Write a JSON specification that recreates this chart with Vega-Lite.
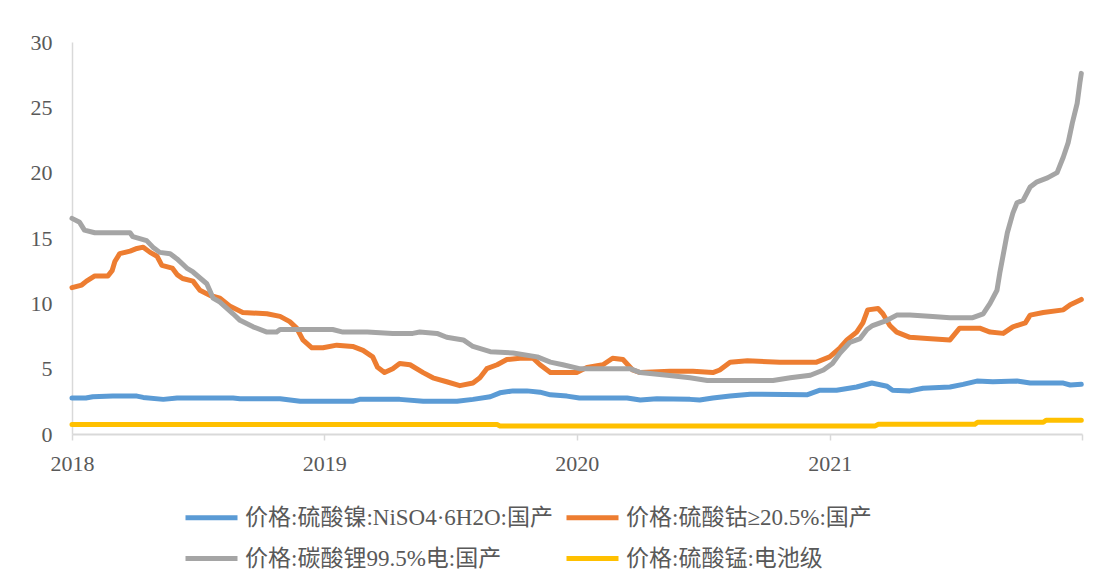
{
  "$schema": "https://vega.github.io/schema/vega-lite/v6.json",
  "width": 1010,
  "height": 392,
  "autosize": {"type": "none"},
  "padding": {"left": 72, "top": 42, "right": 17, "bottom": 148},
  "background": "white",
  "config": {"view": {"stroke": null}, "font": "Liberation Serif"},
  "datasets": {
    "ni": [
      {"date":"2018-01-01","price":2.75},{"date":"2018-01-21","price":2.75},{"date":"2018-01-31","price":2.85},{"date":"2018-03-01","price":2.9},{"date":"2018-04-05","price":2.9},{"date":"2018-04-14","price":2.8},{"date":"2018-05-13","price":2.65},{"date":"2018-06-02","price":2.75},{"date":"2018-08-22","price":2.75},{"date":"2018-09-01","price":2.7},{"date":"2018-10-29","price":2.7},{"date":"2018-11-27","price":2.5},{"date":"2019-02-11","price":2.5},{"date":"2019-02-21","price":2.65},{"date":"2019-04-20","price":2.65},{"date":"2019-05-24","price":2.5},{"date":"2019-07-12","price":2.5},{"date":"2019-08-04","price":2.65},{"date":"2019-08-29","price":2.85},{"date":"2019-09-12","price":3.15},{"date":"2019-10-01","price":3.3},{"date":"2019-10-21","price":3.3},{"date":"2019-11-09","price":3.2},{"date":"2019-11-24","price":3.0},{"date":"2019-12-18","price":2.9},{"date":"2020-01-05","price":2.75},{"date":"2020-03-14","price":2.75},{"date":"2020-04-02","price":2.6},{"date":"2020-04-26","price":2.7},{"date":"2020-06-13","price":2.65},{"date":"2020-06-27","price":2.6},{"date":"2020-07-16","price":2.75},{"date":"2020-08-10","price":2.9},{"date":"2020-09-08","price":3.05},{"date":"2020-11-29","price":3.0},{"date":"2020-12-18","price":3.35},{"date":"2021-01-11","price":3.35},{"date":"2021-02-09","price":3.6},{"date":"2021-03-03","price":3.9},{"date":"2021-03-25","price":3.65},{"date":"2021-04-02","price":3.35},{"date":"2021-04-27","price":3.3},{"date":"2021-05-16","price":3.5},{"date":"2021-06-24","price":3.6},{"date":"2021-07-13","price":3.8},{"date":"2021-08-02","price":4.05},{"date":"2021-08-25","price":4.0},{"date":"2021-09-29","price":4.05},{"date":"2021-10-18","price":3.9},{"date":"2021-12-05","price":3.9},{"date":"2021-12-15","price":3.75},{"date":"2021-12-31","price":3.8}
    ],
    "co": [
      {"date":"2018-01-01","price":11.2},{"date":"2018-01-15","price":11.4},{"date":"2018-01-22","price":11.7},{"date":"2018-02-03","price":12.1},{"date":"2018-02-22","price":12.1},{"date":"2018-02-28","price":12.5},{"date":"2018-03-04","price":13.2},{"date":"2018-03-11","price":13.8},{"date":"2018-03-26","price":14.0},{"date":"2018-04-05","price":14.2},{"date":"2018-04-14","price":14.3},{"date":"2018-04-24","price":13.9},{"date":"2018-05-04","price":13.6},{"date":"2018-05-11","price":12.9},{"date":"2018-05-26","price":12.7},{"date":"2018-06-02","price":12.2},{"date":"2018-06-10","price":11.9},{"date":"2018-06-25","price":11.7},{"date":"2018-07-05","price":11.0},{"date":"2018-07-20","price":10.6},{"date":"2018-08-03","price":10.4},{"date":"2018-08-17","price":9.8},{"date":"2018-09-05","price":9.3},{"date":"2018-10-10","price":9.2},{"date":"2018-10-29","price":9.0},{"date":"2018-11-12","price":8.6},{"date":"2018-11-22","price":8.1},{"date":"2018-12-01","price":7.2},{"date":"2018-12-14","price":6.6},{"date":"2018-12-30","price":6.6},{"date":"2019-01-19","price":6.8},{"date":"2019-02-11","price":6.7},{"date":"2019-02-26","price":6.4},{"date":"2019-03-12","price":5.9},{"date":"2019-03-19","price":5.1},{"date":"2019-03-29","price":4.7},{"date":"2019-04-10","price":5.0},{"date":"2019-04-20","price":5.4},{"date":"2019-05-05","price":5.3},{"date":"2019-05-24","price":4.7},{"date":"2019-06-07","price":4.3},{"date":"2019-06-27","price":4.0},{"date":"2019-07-16","price":3.7},{"date":"2019-08-04","price":3.9},{"date":"2019-08-14","price":4.3},{"date":"2019-08-24","price":5.0},{"date":"2019-09-08","price":5.3},{"date":"2019-09-22","price":5.7},{"date":"2019-10-11","price":5.8},{"date":"2019-10-30","price":5.8},{"date":"2019-11-09","price":5.3},{"date":"2019-11-24","price":4.7},{"date":"2020-01-01","price":4.7},{"date":"2020-01-16","price":5.1},{"date":"2020-02-08","price":5.3},{"date":"2020-02-22","price":5.8},{"date":"2020-03-08","price":5.7},{"date":"2020-03-22","price":4.9},{"date":"2020-04-02","price":4.7},{"date":"2020-05-15","price":4.8},{"date":"2020-06-17","price":4.8},{"date":"2020-07-16","price":4.7},{"date":"2020-07-26","price":4.9},{"date":"2020-08-10","price":5.5},{"date":"2020-09-04","price":5.6},{"date":"2020-10-21","price":5.5},{"date":"2020-12-13","price":5.5},{"date":"2021-01-01","price":5.9},{"date":"2021-01-16","price":6.6},{"date":"2021-01-26","price":7.2},{"date":"2021-02-09","price":7.8},{"date":"2021-02-18","price":8.5},{"date":"2021-02-25","price":9.5},{"date":"2021-03-12","price":9.6},{"date":"2021-03-19","price":9.2},{"date":"2021-03-29","price":8.3},{"date":"2021-04-08","price":7.8},{"date":"2021-04-27","price":7.4},{"date":"2021-05-22","price":7.3},{"date":"2021-06-24","price":7.2},{"date":"2021-07-08","price":8.1},{"date":"2021-08-06","price":8.1},{"date":"2021-08-21","price":7.8},{"date":"2021-09-09","price":7.7},{"date":"2021-09-23","price":8.2},{"date":"2021-10-11","price":8.5},{"date":"2021-10-18","price":9.1},{"date":"2021-11-06","price":9.3},{"date":"2021-12-05","price":9.5},{"date":"2021-12-15","price":9.9},{"date":"2021-12-31","price":10.3}
    ],
    "li": [
      {"date":"2018-01-01","price":16.5},{"date":"2018-01-12","price":16.2},{"date":"2018-01-19","price":15.6},{"date":"2018-02-03","price":15.4},{"date":"2018-03-26","price":15.4},{"date":"2018-03-30","price":15.1},{"date":"2018-04-19","price":14.8},{"date":"2018-04-28","price":14.3},{"date":"2018-05-08","price":13.9},{"date":"2018-05-23","price":13.8},{"date":"2018-06-02","price":13.4},{"date":"2018-06-16","price":12.7},{"date":"2018-06-25","price":12.4},{"date":"2018-07-15","price":11.5},{"date":"2018-07-20","price":10.9},{"date":"2018-07-24","price":10.4},{"date":"2018-08-03","price":10.1},{"date":"2018-08-22","price":9.2},{"date":"2018-09-01","price":8.7},{"date":"2018-09-20","price":8.2},{"date":"2018-10-10","price":7.8},{"date":"2018-10-24","price":7.8},{"date":"2018-10-29","price":8.0},{"date":"2019-01-13","price":8.0},{"date":"2019-01-28","price":7.8},{"date":"2019-03-04","price":7.8},{"date":"2019-04-10","price":7.7},{"date":"2019-05-09","price":7.7},{"date":"2019-05-19","price":7.8},{"date":"2019-06-13","price":7.7},{"date":"2019-06-27","price":7.4},{"date":"2019-07-21","price":7.2},{"date":"2019-08-04","price":6.7},{"date":"2019-08-29","price":6.3},{"date":"2019-10-01","price":6.2},{"date":"2019-11-05","price":5.9},{"date":"2019-11-24","price":5.5},{"date":"2019-12-12","price":5.3},{"date":"2020-01-05","price":5.0},{"date":"2020-03-18","price":5.0},{"date":"2020-04-02","price":4.7},{"date":"2020-05-11","price":4.5},{"date":"2020-06-13","price":4.3},{"date":"2020-07-08","price":4.1},{"date":"2020-10-11","price":4.1},{"date":"2020-11-05","price":4.3},{"date":"2020-12-04","price":4.5},{"date":"2020-12-23","price":4.9},{"date":"2021-01-05","price":5.4},{"date":"2021-01-16","price":6.2},{"date":"2021-01-30","price":7.0},{"date":"2021-02-14","price":7.3},{"date":"2021-02-24","price":8.0},{"date":"2021-03-04","price":8.3},{"date":"2021-03-25","price":8.7},{"date":"2021-04-08","price":9.1},{"date":"2021-04-27","price":9.1},{"date":"2021-05-30","price":9.0},{"date":"2021-06-24","price":8.9},{"date":"2021-07-27","price":8.9},{"date":"2021-08-11","price":9.2},{"date":"2021-08-21","price":10.0},{"date":"2021-08-31","price":11.0},{"date":"2021-09-04","price":12.3},{"date":"2021-09-15","price":15.4},{"date":"2021-09-23","price":16.9},{"date":"2021-09-29","price":17.7},{"date":"2021-10-08","price":17.9},{"date":"2021-10-18","price":18.9},{"date":"2021-10-28","price":19.3},{"date":"2021-11-12","price":19.6},{"date":"2021-11-26","price":20.0},{"date":"2021-12-05","price":21.2},{"date":"2021-12-12","price":22.3},{"date":"2021-12-18","price":23.8},{"date":"2021-12-25","price":25.3},{"date":"2021-12-29","price":26.9},{"date":"2021-12-31","price":27.6}
    ],
    "mn": [
      {"date":"2018-01-01","price":0.72},{"date":"2019-09-08","price":0.72},{"date":"2019-09-12","price":0.62},{"date":"2021-03-08","price":0.62},{"date":"2021-03-12","price":0.74},{"date":"2021-07-30","price":0.74},{"date":"2021-08-03","price":0.9},{"date":"2021-11-06","price":0.9},{"date":"2021-11-10","price":1.05},{"date":"2021-12-31","price":1.05}
    ]
  },
  "encoding": {
    "x": {
      "field": "date", "type": "temporal",
      "scale": {"type": "utc", "domain": [{"year": 2018, "month": 1, "date": 1, "utc": true}, {"year": 2022, "month": 1, "date": 1, "utc": true}]},
      "axis": {
        "values": [{"year": 2018, "utc": true}, {"year": 2019, "utc": true}, {"year": 2020, "utc": true}, {"year": 2021, "utc": true}, {"year": 2022, "utc": true}],
        "format": "%Y", "labelExpr": "utcyear(datum.value) == 2022 ? '' : datum.label",
        "labelFlush": false,
        "title": null, "grid": false, "tickColor": "#D9D9D9", "tickSize": 6, "tickWidth": 1.5,
        "domainColor": "#D9D9D9", "domainWidth": 2, "labelFont": "Liberation Serif",
        "labelFontSize": 22, "labelColor": "#595959", "labelPadding": 13
      }
    },
    "y": {
      "field": "price", "type": "quantitative",
      "scale": {"domain": [0, 30], "nice": false},
      "axis": {
        "values": [0, 5, 10, 15, 20, 25, 30], "title": null, "grid": false, "ticks": false,
        "domainColor": "#D9D9D9", "domainWidth": 1.5, "labelFont": "Liberation Serif",
        "labelFontSize": 22, "labelColor": "#595959", "labelPadding": 20
      }
    }
  },
  "layer": [
    {"data": {"name": "ni"}, "mark": {"type": "line", "strokeWidth": 5, "strokeCap": "round", "strokeJoin": "round"},
     "encoding": {"color": {"datum": "价格:硫酸镍:NiSO4·6H2O:国产", "type": "nominal",
       "scale": {"domain": ["价格:硫酸镍:NiSO4·6H2O:国产", "价格:硫酸钴≥20.5%:国产", "价格:碳酸锂99.5%电:国产", "价格:硫酸锰:电池级"], "range": ["#5B9BD5", "#ED7D31", "#A5A5A5", "#FFC000"]},
       "legend": {"orient": "none", "legendX": 111, "legendY": 447, "columns": 2, "direction": "horizontal", "title": null,
         "symbolType": "stroke", "symbolSize": 2704, "symbolStrokeWidth": 5, "labelFont": "Liberation Serif, Noto Sans CJK SC",
         "labelFontSize": 23, "labelColor": "#595959", "labelOffset": 5, "columnPadding": 3, "rowPadding": -14, "labelLimit": 500}}}},
    {"data": {"name": "co"}, "mark": {"type": "line", "strokeWidth": 5, "strokeCap": "round", "strokeJoin": "round"},
     "encoding": {"color": {"datum": "价格:硫酸钴≥20.5%:国产", "type": "nominal"}}},
    {"data": {"name": "li"}, "mark": {"type": "line", "strokeWidth": 5, "strokeCap": "round", "strokeJoin": "round"},
     "encoding": {"color": {"datum": "价格:碳酸锂99.5%电:国产", "type": "nominal"}}},
    {"data": {"name": "mn"}, "mark": {"type": "line", "strokeWidth": 5, "strokeCap": "round", "strokeJoin": "round"},
     "encoding": {"color": {"datum": "价格:硫酸锰:电池级", "type": "nominal"}}}
  ]
}
